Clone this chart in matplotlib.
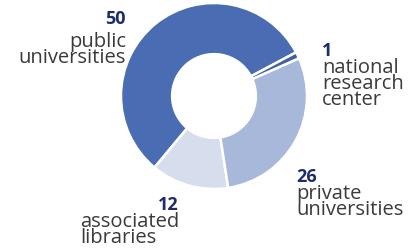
import matplotlib
matplotlib.use("Agg")
import matplotlib.pyplot as plt

categories = ["public universities", "associated libraries", "private universities", "national research center"]
values = [50, 12, 26, 1]
colors = ["#4a6cb3", "#d6ddec", "#a8b8da", "#42609f"]

W, H = 413, 253
fig = plt.figure(figsize=(W / 100, H / 100), dpi=100)
ax = fig.add_axes([0, 0, 1, 1])

cx, cy, r = 214, H - 97, 93
ax.pie(values, colors=colors, startangle=28, counterclock=True, center=(cx, cy), radius=r,
       wedgeprops=dict(width=r * 0.55, edgecolor="white", linewidth=1.8), frame=True)
ax.set_xlim(0, W)
ax.set_ylim(0, H)
ax.set_aspect("equal")
ax.axis("off")

font = "Open Sans"
numc = "#1e2c6e"
labc = "#3a3a3a"
nfs, lfs = 13, 14.5

def num(x, y, v, ha):
    ax.text(x, H - y, str(v), ha=ha, va="baseline", fontsize=nfs, fontweight="bold", color=numc, family=font)

def lab(x, y_last, s, ha):
    ax.text(x, H - y_last, s, ha=ha, va="baseline", fontsize=lfs, color=labc, family=font,
            multialignment=ha, linespacing=0.72)

num(126, 24, values[0], "right")
lab(126, 63, "public\nuniversities", "right")

num(322, 56, values[3], "left")
lab(322, 105, "national\nresearch\ncenter", "left")

num(296, 182, values[2], "left")
lab(296, 215, "private\nuniversities", "left")

num(179, 210, values[1], "right")
lab(80, 243, "associated\nlibraries", "left")

fig.savefig("out.png", dpi=100)
